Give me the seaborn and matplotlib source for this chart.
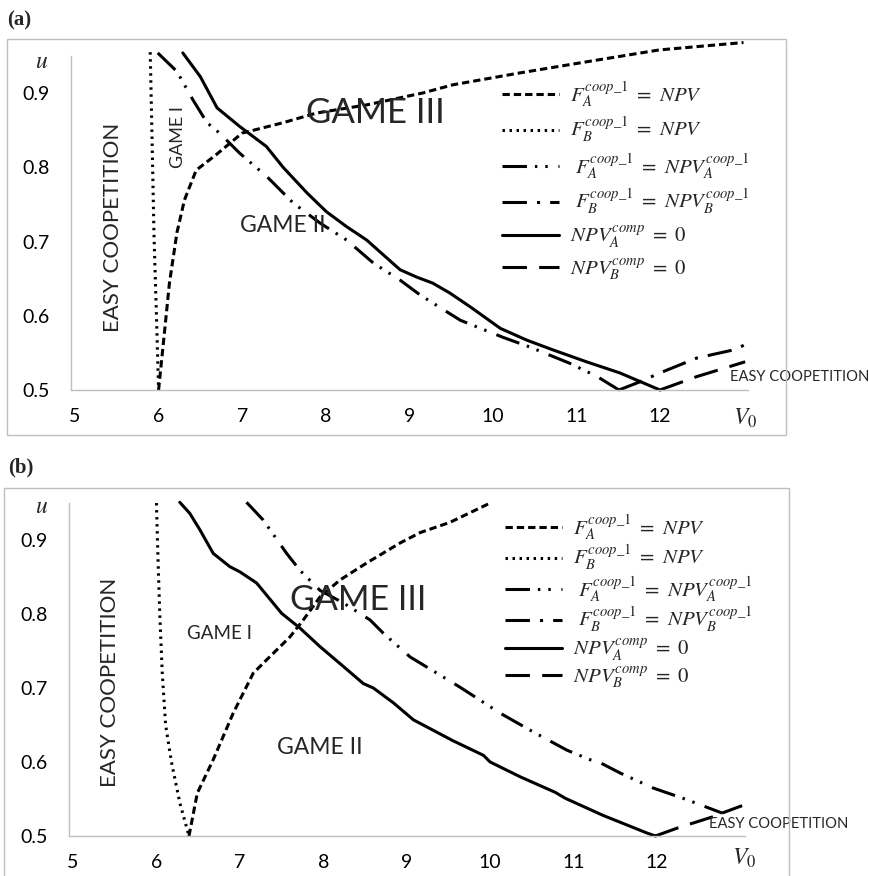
import numpy as np
import pandas as pd
import matplotlib
matplotlib.use("Agg")
import matplotlib.pyplot as plt
from matplotlib.patches import Rectangle
import seaborn as sns

# ---------------- data: panel (a) ----------------
a_FA_npv_x = [6.0, 6.07, 6.13, 6.22, 6.31, 6.45, 6.69, 7.0, 7.49, 7.89, 8.49, 9.16, 9.52, 10.32, 11.12, 11.99, 13.0]
a_FA_npv_y = [0.5, 0.577, 0.644, 0.712, 0.756, 0.796, 0.817, 0.846, 0.86, 0.873, 0.884, 0.9, 0.911, 0.927, 0.942, 0.958, 0.968]

a_FB_npv_x = [5.9, 5.92, 5.945, 5.98, 6.0]
a_FB_npv_y = [0.955, 0.85, 0.71, 0.58, 0.5]

a_FA_npvA_x = [5.99, 6.22, 6.41, 6.58, 6.73, 6.97, 7.3, 7.61, 7.93, 8.25, 8.57, 8.89, 9.13, 9.61, 10.12, 10.44, 10.92, 11.25, 11.51]
a_FA_npvA_y = [0.954, 0.929, 0.891, 0.86, 0.846, 0.819, 0.787, 0.752, 0.725, 0.702, 0.671, 0.648, 0.628, 0.594, 0.571, 0.558, 0.536, 0.518, 0.5]

a_FB_npvB_x = [11.51, 11.76, 12.0, 12.44, 12.72, 12.88, 13.02]
a_FB_npvB_y = [0.5, 0.511, 0.523, 0.543, 0.55, 0.554, 0.561]

a_NPVA_comp_x = [6.29, 6.5, 6.7, 6.97, 7.29, 7.49, 7.78, 8.01, 8.25, 8.49, 8.89, 9.09, 9.28, 9.48, 9.73, 10.09, 10.41, 10.72, 11.12, 11.52, 12.0]
a_NPVA_comp_y = [0.954, 0.922, 0.88, 0.855, 0.828, 0.8, 0.765, 0.74, 0.72, 0.702, 0.662, 0.652, 0.644, 0.631, 0.612, 0.583, 0.567, 0.554, 0.538, 0.523, 0.5]

a_NPVB_comp_x = [12.0, 12.44, 13.02]
a_NPVB_comp_y = [0.5, 0.518, 0.538]

# ---------------- data: panel (b) ----------------
b_FA_npv_x = [6.39, 6.49, 6.68, 6.92, 7.16, 7.32, 7.6, 7.76, 7.96, 8.2, 8.52, 8.92, 9.16, 9.52, 10.0]
b_FA_npv_y = [0.5, 0.558, 0.603, 0.666, 0.72, 0.738, 0.769, 0.792, 0.823, 0.846, 0.869, 0.896, 0.91, 0.924, 0.95]

b_FB_npv_x = [6.0, 6.02, 6.04, 6.07, 6.11, 6.18, 6.28, 6.39]
b_FB_npv_y = [0.95, 0.87, 0.8, 0.72, 0.65, 0.6, 0.545, 0.5]

b_FA_npvA_x = [7.08, 7.28, 7.56, 7.72, 7.96, 8.24, 8.56, 8.72, 9.04, 9.64, 10.12, 10.51, 10.92, 11.2, 11.32, 11.56, 11.95, 12.36, 12.78]
b_FA_npvA_y = [0.951, 0.927, 0.882, 0.859, 0.832, 0.815, 0.792, 0.774, 0.742, 0.701, 0.666, 0.641, 0.616, 0.603, 0.599, 0.585, 0.565, 0.549, 0.531]

b_FB_npvB_x = [12.78, 13.02]
b_FB_npvB_y = [0.531, 0.541]

b_NPVA_comp_x = [6.28, 6.4, 6.52, 6.68, 6.88, 7.0, 7.2, 7.5, 7.72, 7.96, 8.2, 8.48, 8.6, 8.84, 9.08, 9.55, 9.92, 10.0, 10.36, 10.78, 10.9, 11.35, 11.88, 11.98]
b_NPVA_comp_y = [0.951, 0.936, 0.914, 0.882, 0.864, 0.857, 0.842, 0.801, 0.781, 0.756, 0.733, 0.706, 0.7, 0.68, 0.657, 0.629, 0.609, 0.6, 0.58, 0.559, 0.551, 0.528, 0.504, 0.5]

b_NPVB_comp_x = [11.98, 12.25, 12.67]
b_NPVB_comp_y = [0.5, 0.511, 0.526]

x_ticks = [5, 6, 7, 8, 9, 10, 11, 12]
y_ticks = [0.5, 0.6, 0.7, 0.8, 0.9]

labels = [
    r"$F_A^{coop\_1}\ =\ NPV$",
    r"$F_B^{coop\_1}\ =\ NPV$",
    r"$\ F_A^{coop\_1}\ =\ NPV_A^{coop\_1}$",
    r"$\ F_B^{coop\_1}\ =\ NPV_B^{coop\_1}$",
    r"$NPV_A^{comp}\ =\ 0$",
    r"$NPV_B^{comp}\ =\ 0$",
]

# ---------------- style ----------------
sns.set_theme(style="white")
plt.rcParams["font.family"] = ["Lato", "DejaVu Sans"]
plt.rcParams["mathtext.fontset"] = "stix"

LW = 2.2
styles = [
    (0, (2.4, 1.3)),                 # short dash
    (0, (0.8, 1.5)),                 # dotted
    (0, (8, 2.6, 0.8, 2.6, 0.8, 3.5)),  # long dash dot dot
    (0, (8, 3.3, 1.0, 3.3)),         # long dash dot
    "-",                             # solid
    (0, (8, 4)),                     # long dash
]
GRAY = "#bfbfbf"

fig = plt.figure(figsize=(8.69, 8.76), dpi=100)


def draw_panel(ax, series, texts, leg_anchor, leg_spacing):
    handles = []
    for (xs, ys), ls, lab in zip(series, styles, labels):
        df = pd.DataFrame({"x": xs, "y": ys})
        sns.lineplot(data=df, x="x", y="y", ax=ax, color="black", sort=False,
                     estimator=None, linewidth=LW, linestyle=ls, clip_on=False)
        line = ax.lines[-1]
        line.set_dash_capstyle("butt")
        handles.append(line)
    ax.set_xlim(4.95, 13.05)
    ax.set_ylim(0.5, 0.95)
    ax.set_xticks(x_ticks)
    ax.set_yticks(y_ticks)
    ax.set_xticklabels([str(v) for v in x_ticks])
    ax.set_yticklabels([f"{v:.1f}" for v in y_ticks])
    ax.tick_params(axis="both", length=0, labelsize=14, colors="black")
    ax.tick_params(axis="y", pad=15)
    ax.tick_params(axis="x", pad=13)
    ax.set_xlabel("")
    ax.set_ylabel("")
    for s in ["top", "right"]:
        ax.spines[s].set_visible(False)
    for s in ["left", "bottom"]:
        ax.spines[s].set_color(GRAY)
        ax.spines[s].set_linewidth(1.0)
    ax.set_facecolor("none")
    for t in texts:
        ax.text(*t[0], t[1], fontsize=t[2], rotation=t[3], ha="center", va="center",
                family=["Lato", "DejaVu Sans"])
    leg = ax.legend(handles, labels, loc="upper left", bbox_to_anchor=leg_anchor,
                    bbox_transform=fig.transFigure, frameon=False, fontsize=15,
                    handlelength=2.75, handletextpad=0.5, labelspacing=leg_spacing,
                    borderpad=0, borderaxespad=0)
    return leg


# panel (a)
axA = fig.add_axes([0.0815, 0.5548, 0.7789, 0.3814])
series_a = [(a_FA_npv_x, a_FA_npv_y), (a_FB_npv_x, a_FB_npv_y),
            (a_FA_npvA_x, a_FA_npvA_y), (a_FB_npvB_x, a_FB_npvB_y),
            (a_NPVA_comp_x, a_NPVA_comp_y), (a_NPVB_comp_x, a_NPVB_comp_y)]
texts_a = [
    ((5.455, 0.7195), "EASY COOPETITION", 16, 90),
    ((6.23, 0.841), "GAME I", 13, 90),
    ((8.59, 0.873), "GAME III", 25, 0),
    ((7.49, 0.721), "GAME II", 16.5, 0),
    ((13.675, 0.5175), "EASY COOPETITION", 10.6, 0),
]
draw_panel(axA, series_a, texts_a, (502 / 869, 1 - 79 / 876), 0.32)
axA.text(4.605, 0.942, r"$u$", fontsize=17, ha="center", va="center")
axA.text(13.02, 0.462, r"$V_0$", fontsize=17, ha="center", va="center")

# panel (b)
axB = fig.add_axes([0.0792, 0.04566, 0.7777, 0.3801])
series_b = [(b_FA_npv_x, b_FA_npv_y), (b_FB_npv_x, b_FB_npv_y),
            (b_FA_npvA_x, b_FA_npvA_y), (b_FB_npvB_x, b_FB_npvB_y),
            (b_NPVA_comp_x, b_NPVA_comp_y), (b_NPVB_comp_x, b_NPVB_comp_y)]
texts_b = [
    ((5.443, 0.708), "EASY COOPETITION", 16, 90),
    ((6.76, 0.774), "GAME I", 13.5, 0),
    ((8.42, 0.819), "GAME III", 24.5, 0),
    ((7.96, 0.62), "GAME II", 16.5, 0),
    ((13.46, 0.516), "EASY COOPETITION", 10.6, 0),
]
draw_panel(axB, series_b, texts_b, (505 / 869, 1 - 512 / 876), 0.08)
axB.text(4.628, 0.945, r"$u$", fontsize=17, ha="center", va="center")
axB.text(13.05, 0.47, r"$V_0$", fontsize=17, ha="center", va="center")

# frames around each panel
fig.add_artist(Rectangle((7 / 869, 1 - 435 / 876), 779 / 869, 396 / 876,
                         transform=fig.transFigure, fill=False, edgecolor=GRAY, lw=1.0))
fig.add_artist(Rectangle((4 / 869, -0.01), 785 / 869, 1 - 488 / 876 + 0.01,
                         transform=fig.transFigure, fill=False, edgecolor=GRAY, lw=1.0))

# panel letters
fig.text(7 / 869, 1 - 20 / 876, "(a)", fontsize=15, fontweight="bold",
         family="Liberation Serif", ha="left", va="center")
fig.text(8 / 869, 1 - 467 / 876, "(b)", fontsize=15, fontweight="bold",
         family="Liberation Serif", ha="left", va="center")

fig.savefig("out.png", dpi=100)
